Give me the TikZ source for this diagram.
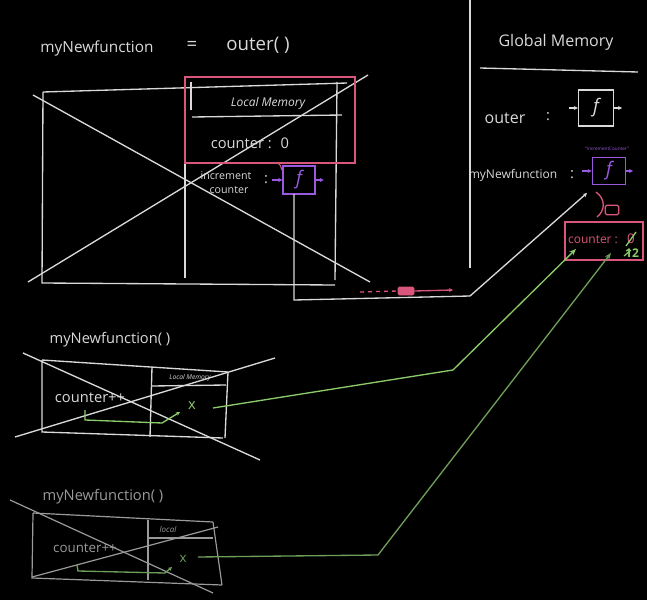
\documentclass[tikz,border=0pt]{standalone}
\usepackage{fontspec}
\setmainfont{Open Sans}
\usetikzlibrary{arrows.meta}
\definecolor{chalk}{HTML}{D9D9D9}
\definecolor{dimchalk}{HTML}{9A9A9A}
\definecolor{pinkc}{HTML}{D9557A}
\definecolor{purplec}{HTML}{9A5AE0}
\definecolor{greenc}{HTML}{8CCB6A}
\definecolor{dimgreen}{HTML}{6E9E58}
\tikzset{
  chalkline/.style={draw=chalk, line width=1pt},
  dimline/.style={draw=dimchalk, line width=0.9pt},
  txt/.style={text=chalk, inner sep=0pt, font=\fontsize{11}{12}\selectfont},
  fbox/.style={draw=#1, line width=1.1pt, minimum width=24pt, minimum height=21pt, inner sep=0pt, text=#1, font=\fontsize{14}{14}\itshape\selectfont},
  garrow/.style={draw=greenc, line width=1pt, -{Stealth[length=5pt,width=4pt]}},
  tip/.style={-{Stealth[length=3pt,width=3pt]}}
}
\begin{document}
\begin{tikzpicture}[x=0.75pt,y=-0.75pt]
\fill[black] (0,0) rectangle (647,600);
\useasboundingbox (0,0) rectangle (647,600);

% ---------- top: myNewfunction = outer()
\node[txt, font=\fontsize{11.5}{12}\selectfont] (tmnf) at (97,48) {myNewfunction};
\node[txt, font=\fontsize{14}{14}\selectfont] (teq) at (192,46) {=};
\node[txt, font=\fontsize{14}{14}\selectfont] (touter) at (258,45) {outer( )};

% outer execution context box
\draw[chalkline] (43,92) -- (347,83);
\draw[chalkline] (43,92) -- (42,283) -- (335,285);
\draw[chalkline] (337,82) -- (335,280);
\draw[chalkline] (185,97) -- (185,278);
\draw[chalkline] (33,95) -- (370,282);
\draw[chalkline] (28,282) -- (368,75);

% local memory (pink)
\node[draw=pinkc, line width=1.1pt, minimum width=127.5pt, minimum height=64.5pt, inner sep=0pt] (lmem) at (270,120) {};
\draw[chalkline] (192,117) -- (342,115);
\draw[chalkline] (191,82) -- (191,110);
\node[txt, font=\fontsize{9}{10}\itshape\selectfont] (lmt) at (268,103) {Local Memory};
\node[txt, font=\fontsize{11}{12}\selectfont] (lmc) at (250,143) {counter : \ 0};

\node[txt, font=\fontsize{8}{8}\selectfont] (inc1) at (226,176) {increment};
\node[txt, font=\fontsize{8}{8}\selectfont] (inc2) at (229,190) {counter};
\node[txt] (incc) at (266,180) {:};
\node[fbox=purplec] (fA) at (299,180) {f};
\draw[purplec, line width=0.9pt, tip] ([xshift=-8pt]fA.west) -- (fA.west);
\draw[purplec, line width=0.9pt, tip] (fA.east) -- ([xshift=6pt]fA.east);
\draw[pinkc, line width=0.8pt] (277,162) to[bend left=20] (282,170);

% wire from returned function to global memory
\coordinate (w1) at (294,300);
\coordinate (w2) at (470,296);
\draw[chalkline, tip] (294,194) -- (w1) -- (w2) -- (587,193);

% pink backpack dashed arrow
\node[fill=pinkc, draw=pinkc, minimum width=12pt, minimum height=6pt, inner sep=0pt, rounded corners=1pt] (bp1) at (406,291) {};
\draw[pinkc, line width=1pt, dashed] (360,292) -- (bp1.west);
\draw[pinkc, line width=1pt, tip] (bp1.east) -- (453,290);

% ---------- global memory
\draw[chalkline] (470,0) -- (470,268);
\node[txt, font=\fontsize{12}{12}\selectfont] (gm) at (556,42) {Global Memory};
\draw[chalkline] (480,68) -- (638,72);
\node[txt, font=\fontsize{12}{12}\selectfont] (gouter) at (505,118) {outer};
\node[txt] (gc1) at (548,117) {:};
\node[fbox=chalk, minimum width=26pt, minimum height=27pt] (fO) at (596,108) {f};
\draw[chalk, line width=0.9pt, tip] ([xshift=-7pt]fO.west) -- (fO.west);
\draw[chalk, line width=0.9pt, tip] (fO.east) -- ([xshift=6pt]fO.east);

\node[txt, font=\fontsize{9}{10}\selectfont] (gmnf) at (513,175) {myNewfunction};
\node[txt] (gc2) at (572,175) {:};
\node[fbox=purplec, minimum width=25pt, minimum height=20pt] (fB) at (609,171) {f};
\draw[purplec, line width=0.9pt, tip] ([xshift=-7pt]fB.west) -- (fB.west);
\draw[purplec, line width=0.9pt, tip] (fB.east) -- ([xshift=5pt]fB.east);
\node[text=purplec, inner sep=0pt, font=\fontsize{3.5}{4}\selectfont] (incname) at (607,149) {``incrementCounter''};

\draw[pinkc, line width=1pt] (596,192) .. controls (606,199) and (605,211) .. (597,217);
\node[draw=pinkc, line width=0.9pt, minimum width=10pt, minimum height=7pt, inner sep=0pt, rounded corners=1pt] (bp2) at (612,210) {};

\node[draw=pinkc, line width=1pt, minimum width=58.5pt, minimum height=28.5pt, inner sep=0pt] (cB) at (604,241) {};
\node[text=pinkc, inner sep=0pt, font=\fontsize{9}{10}\selectfont] (cBt) at (593,240) {counter :};
\node[text=pinkc, inner sep=0pt, font=\fontsize{10}{10}\selectfont] (cB0) at (631,239) {0};
\draw[greenc, line width=1pt] (626,246) -- (636,232);
\node[text=greenc, inner sep=0pt, font=\fontsize{9}{10}\bfseries\selectfont] (cB12) at (632,253) {12};
\draw[greenc, line width=0.9pt] (624,256) -- (631,250);
\coordinate (cBin1) at (576,249);
\coordinate (cBin2) at (611,253);

% ---------- first call
\node[txt] (m1) at (110,340) {myNewfunction( )};
\draw[chalkline] (42,360) -- (228,372);
\draw[chalkline] (42,360) -- (42,432) -- (223,438);
\draw[chalkline] (228,372) -- (225,438);
\draw[chalkline] (152,367) -- (150,437);
\draw[chalkline] (152,386) -- (226,385);
\draw[chalkline] (23,353) -- (260,460);
\draw[chalkline] (15,437) -- (275,358);
\node[txt, font=\fontsize{5}{5}\itshape\selectfont] (m1lm) at (190,378) {Local Memory};
\node[txt, font=\fontsize{11}{12}\selectfont] (m1c) at (90,398) {counter++};
\draw[greenc, line width=1pt, tip] (85,410) -- (85,420) -- (162,423) -- (180,412);
\node[text=greenc, inner sep=0pt, font=\fontsize{11}{11}\selectfont] (m1x) at (192,406) {x};
\coordinate (g1a) at (213,408);
\coordinate (g1b) at (453,370);
\draw[garrow] (g1a) -- (g1b) -- (cBin1);

% ---------- second call
\node[txt, text=dimchalk] (m2) at (103,497) {myNewfunction( )};
\draw[dimline] (33,513) -- (213,522);
\draw[dimline] (33,513) -- (32,578) -- (222,585);
\draw[dimline] (213,522) -- (222,585);
\draw[dimline] (148,520) -- (148,580);
\draw[dimline] (148,538) -- (213,538);
\draw[dimline] (10,500) -- (213,593);
\draw[dimline] (32,577) -- (218,527);
\node[txt, text=dimchalk, font=\fontsize{6}{6}\itshape\selectfont] (m2lm) at (168,529) {local};
\node[txt, text=dimchalk, font=\fontsize{10}{11}\selectfont] (m2c) at (85,548) {counter++};
\draw[dimgreen, line width=1pt, tip] (77,565) -- (78,571) -- (165,573) -- (172,567);
\node[text=dimgreen, inner sep=0pt, font=\fontsize{10}{10}\selectfont] (m2x) at (183,559) {x};
\coordinate (g2a) at (198,557);
\coordinate (g2b) at (378,555);
\draw[dimgreen, line width=1pt, -{Stealth[length=5pt,width=4pt]}] (g2a) -- (g2b) -- (cBin2);
\end{tikzpicture}
\end{document}
